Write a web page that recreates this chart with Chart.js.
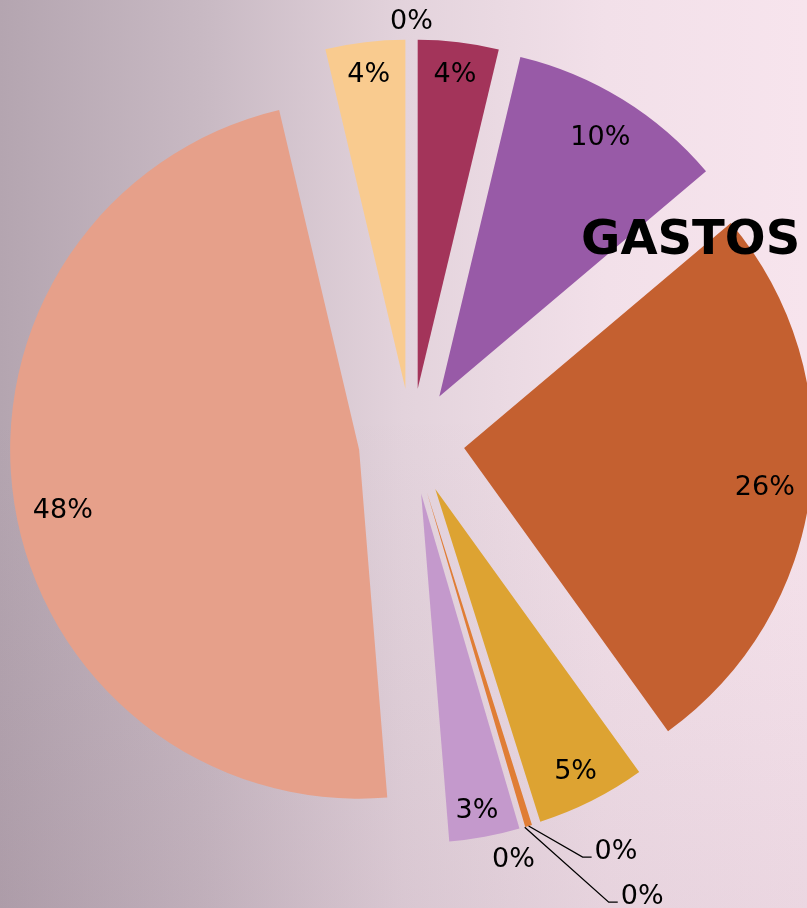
<!DOCTYPE html>
<html>
<head>
<meta charset="utf-8">
<script src="https://cdn.jsdelivr.net/npm/chart.js@4/dist/chart.umd.min.js"></script>
<style>
    html, body { margin: 0; padding: 0; }
    body { width: 807px; height: 908px; overflow: hidden; }
    #wrap {
        position: relative; width: 807px; height: 908px;
        background:
            linear-gradient(to bottom, rgba(255,255,255,0) 45%, rgba(80,40,70,0.07) 100%),
            linear-gradient(to right, #b4a5b0 0%, #c8b9c3 25%, #e3d3dc 50%, #f2e0e9 75%, #f7e4ed 100%);
    }
    #gastosChart { position: absolute; left: 0; top: 0; }
    #titulo {
        position: absolute; left: 581px; top: 213px;
        font: bold 48px "DejaVu Sans", Verdana, sans-serif; line-height: 1; color: #000;
    }
</style>
</head>
<body>
<div id="wrap">
    <canvas id="gastosChart" width="807" height="908"></canvas>
    <div id="titulo">GASTOS</div>
</div>
<script>
    // datos (porcentajes aproximados)
    const categorias = ['Gasto 1', 'Gasto 2', 'Gasto 3', 'Gasto 4', 'Gasto 5', 'Gasto 6',
        'Gasto 7', 'Gasto 8', 'Gasto 9', 'Gasto 10', 'Gasto 11'];
    const valores = [3.72, 10.08, 26.14, 5.05, 0.32, 0, 0, 3.25, 47.45, 3.67, 0];
    const colores = ['#a3345a', '#985aa7', '#c46030', '#dda332', '#e07d35', '#b8a0c0',
        '#c9a6c9', '#c499cc', '#e6a08a', '#f9cb8f', '#d9c2cf'];

    // como se coloca cada etiqueta
    const modoEtiqueta = ['in', 'in', 'in', 'in', 'leader', 'leader', 'out', 'in', 'in', 'in', 'out'];
    const codoLinea = { 4: [54, 31], 5: [84, 75] };
    const ajusteFuera = { 6: [-17, 11], 10: [0, 0] };
    const ajusteDentro = { 7: [-2, 3], 8: [3, 11] };

    const explode = 53;
    const fontSize = 27;
    const labelFont = fontSize + 'px "DejaVu Sans", Verdana, sans-serif';

    const total = valores.reduce((a, b) => a + b, 0);

    function insideRadius(R, ux, uy, w, h, pad) {
        let r = R;
        while (r > 0) {
            const fx = Math.abs(r * ux) + w / 2;
            const fy = Math.abs(r * uy) + h / 2;
            if (Math.hypot(fx, fy) <= R - pad) break;
            r -= 0.5;
        }
        return r;
    }

    const explodePlugin = {
        id: 'explode',
        beforeDatasetsDraw(chart) {
            const ctx = chart.ctx;
            chart.getDatasetMeta(0).data.forEach(function (arc) {
                const mid = (arc.startAngle + arc.endAngle) / 2;
                ctx.save();
                ctx.translate(Math.cos(mid) * explode, Math.sin(mid) * explode);
                arc.draw(ctx);
                ctx.restore();
            });
            return false;
        }
    };

    const labelPlugin = {
        id: 'etiquetas',
        afterDraw(chart) {
            const ctx = chart.ctx;
            ctx.save();
            ctx.font = labelFont;
            ctx.fillStyle = '#000';
            ctx.strokeStyle = '#000';
            ctx.lineWidth = 1.3;
            const capHalf = fontSize * 0.365;

            chart.getDatasetMeta(0).data.forEach(function (arc, i) {
                const txt = Math.round(valores[i] / total * 100) + '%';
                const mid = (arc.startAngle + arc.endAngle) / 2;
                const ux = Math.cos(mid), uy = Math.sin(mid);
                const tipX = arc.x + ux * explode, tipY = arc.y + uy * explode;
                const R = arc.outerRadius;
                const w = ctx.measureText(txt).width;

                if (modoEtiqueta[i] === 'in') {
                    const r = insideRadius(R, ux, uy, w, fontSize, 14);
                    const adj = ajusteDentro[i] || [0, 0];
                    ctx.textAlign = 'center';
                    ctx.fillText(txt, tipX + r * ux + adj[0], tipY + r * uy + adj[1] + capHalf);
                } else if (modoEtiqueta[i] === 'out') {
                    const adj = ajusteFuera[i] || [0, 0];
                    ctx.textAlign = 'center';
                    ctx.fillText(txt, tipX + (R + 20) * ux + adj[0], tipY + (R + 20) * uy + adj[1] + capHalf);
                } else {
                    const ax = tipX + R * ux, ay = tipY + R * uy;
                    const c = codoLinea[i];
                    const ex = ax + c[0], ey = ay + c[1];
                    ctx.beginPath();
                    ctx.moveTo(ax, ay);
                    ctx.lineTo(ex, ey);
                    ctx.lineTo(ex + 9, ey);
                    ctx.stroke();
                    ctx.textAlign = 'left';
                    ctx.fillText(txt, ex + 12, ey - 8 + capHalf);
                }
            });
            ctx.restore();
        }
    };

    const chartCtx = document.getElementById('gastosChart').getContext('2d');

    new Chart(chartCtx, {
        type: 'pie',
        data: {
            labels: categorias,
            datasets: [{
                data: valores,
                backgroundColor: colores,
                borderWidth: 0,
                radius: 349,
                clip: false
            }]
        },
        options: {
            responsive: false,
            animation: false,
            devicePixelRatio: 1,
            layout: { padding: { left: 16, bottom: 25 } },
            plugins: {
                legend: { display: false },
                tooltip: { enabled: false },
                title: { display: false }
            }
        },
        plugins: [explodePlugin, labelPlugin]
    });
</script>
</body>
</html>
